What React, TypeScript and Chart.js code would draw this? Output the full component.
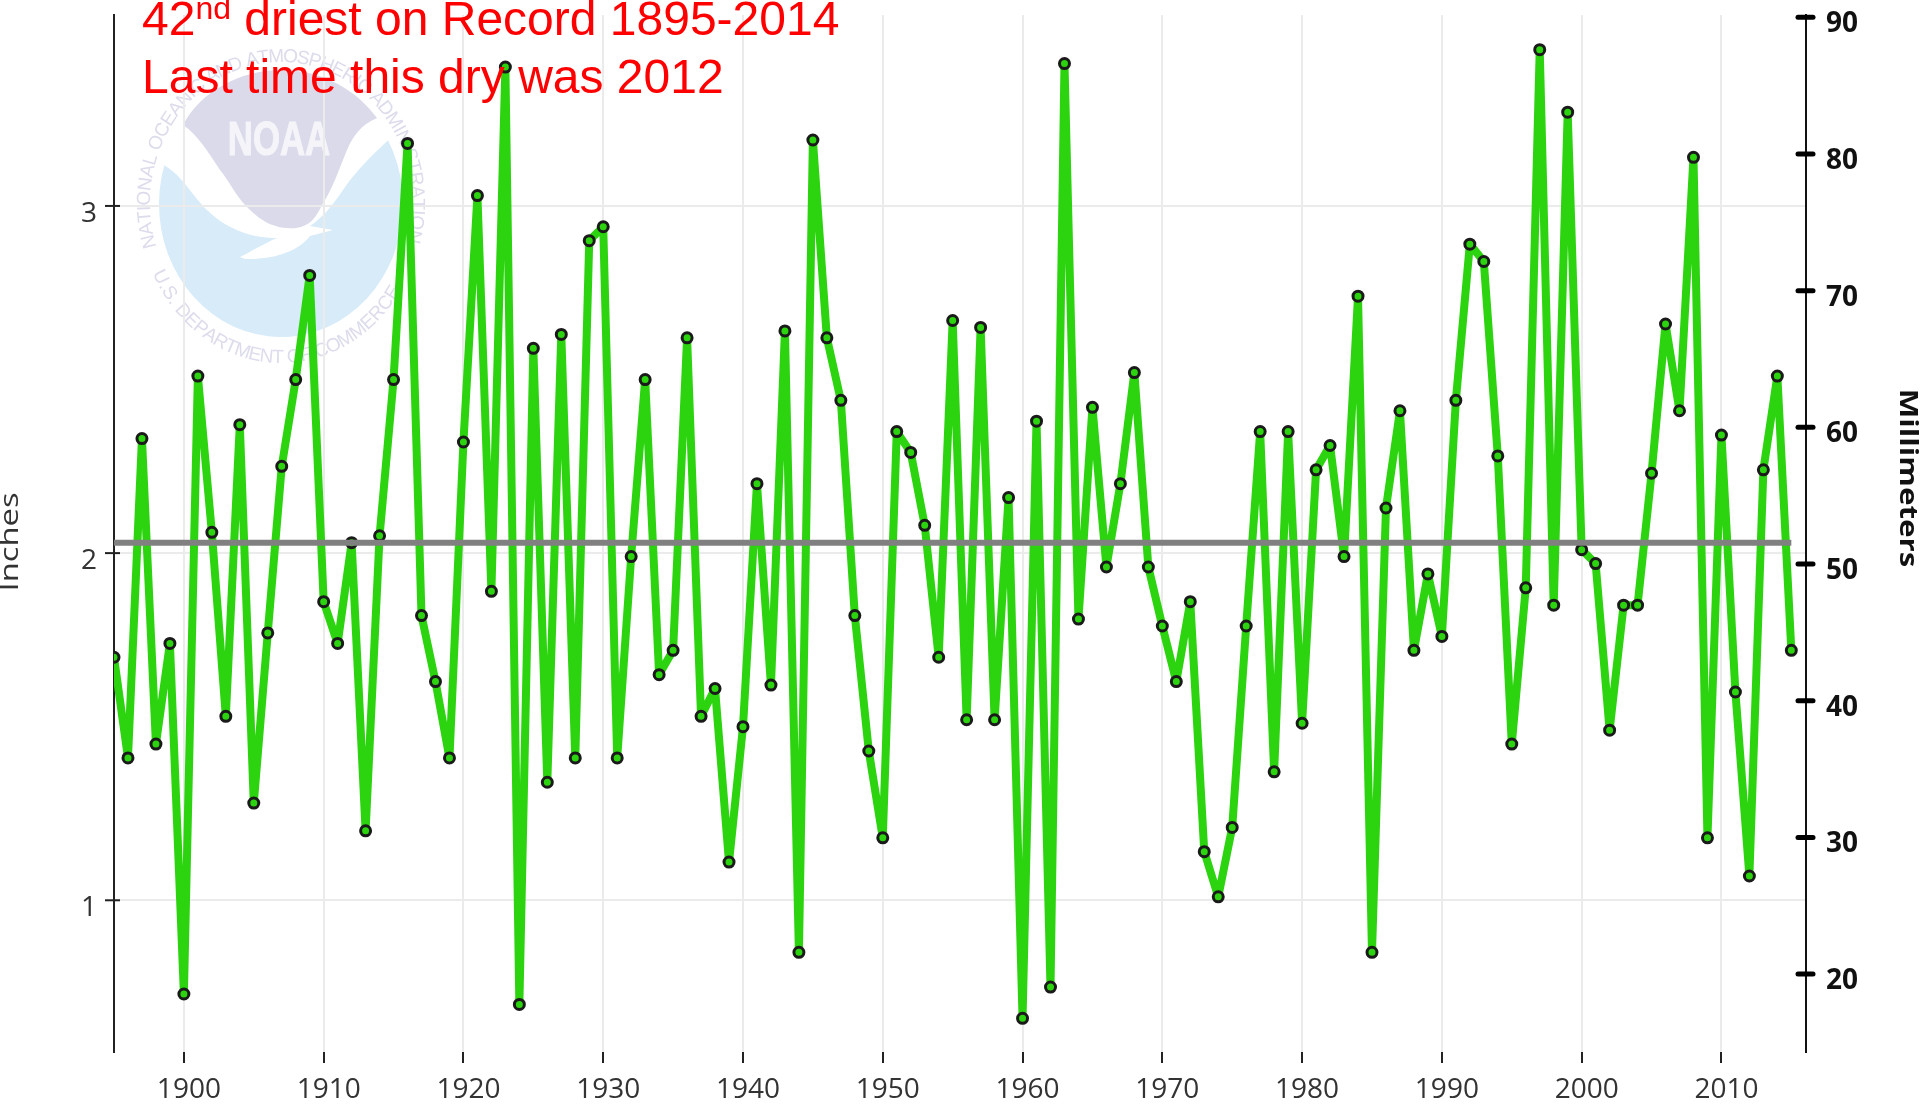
import React, { useEffect, useRef } from "react";
import { Chart, registerables } from "chart.js";

Chart.register(...registerables);

const years = [
  1895, 1896, 1897, 1898, 1899, 1900, 1901, 1902, 1903, 1904, 1905, 1906, 1907, 1908, 1909,
  1910, 1911, 1912, 1913, 1914, 1915, 1916, 1917, 1918, 1919, 1920, 1921, 1922, 1923, 1924,
  1925, 1926, 1927, 1928, 1929, 1930, 1931, 1932, 1933, 1934, 1935, 1936, 1937, 1938, 1939,
  1940, 1941, 1942, 1943, 1944, 1945, 1946, 1947, 1948, 1949, 1950, 1951, 1952, 1953, 1954,
  1955, 1956, 1957, 1958, 1959, 1960, 1961, 1962, 1963, 1964, 1965, 1966, 1967, 1968, 1969,
  1970, 1971, 1972, 1973, 1974, 1975, 1976, 1977, 1978, 1979, 1980, 1981, 1982, 1983, 1984,
  1985, 1986, 1987, 1988, 1989, 1990, 1991, 1992, 1993, 1994, 1995, 1996, 1997, 1998, 1999,
  2000, 2001, 2002, 2003, 2004, 2005, 2006, 2007, 2008, 2009, 2010, 2011, 2012, 2013, 2014, 2015,
];
const inches = [
  1.7, 1.41, 2.33, 1.45, 1.74, 0.73, 2.51, 2.06, 1.53, 2.37, 1.28, 1.77, 2.25, 2.5, 2.8,
  1.86, 1.74, 2.03, 1.2, 2.05, 2.5, 3.18, 1.82, 1.63, 1.41, 2.32, 3.03, 1.89, 3.4, 0.7,
  2.59, 1.34, 2.63, 1.41, 2.9, 2.94, 1.41, 1.99, 2.5, 1.65, 1.72, 2.62, 1.53, 1.61, 1.11,
  1.5, 2.2, 1.62, 2.64, 0.85, 3.19, 2.62, 2.44, 1.82, 1.43, 1.18, 2.35, 2.29, 2.08, 1.7,
  2.67, 1.52, 2.65, 1.52, 2.16, 0.66, 2.38, 0.75, 3.41, 1.81, 2.42, 1.96, 2.2, 2.52, 1.96,
  1.79, 1.63, 1.86, 1.14, 1.01, 1.21, 1.79, 2.35, 1.37, 2.35, 1.51, 2.24, 2.31, 1.99, 2.74,
  0.85, 2.13, 2.41, 1.72, 1.94, 1.76, 2.44, 2.89, 2.84, 2.28, 1.45, 1.9, 3.45, 1.85, 3.27,
  2.01, 1.97, 1.49, 1.85, 1.85, 2.23, 2.66, 2.41, 3.14, 1.18, 2.34, 1.6, 1.07, 2.24, 2.51, 1.72,
];
const meanYears = [1895, 2015];
const meanInches = [2.03, 2.03];
const decadeTicks = [1900, 1910, 1920, 1930, 1940, 1950, 1960, 1970, 1980, 1990, 2000, 2010];
const inchTicks = [1, 2, 3];
const mmTicks = [20, 30, 40, 50, 60, 70, 80, 90];

const F = '"Open Sans", sans-serif';

function ringText(ctx: any, text: string, cx: number, cy: number, rx: number, ry: number, a0: number, a1: number) {
  const widths = [...text].map((c) => ctx.measureText(c).width);
  const total = widths.reduce((s, w) => s + w, 0);
  let acc = 0;
  [...text].forEach((c, i) => {
    const t = (acc + widths[i] / 2) / total;
    acc += widths[i];
    const a = a0 + (a1 - a0) * t;
    const x = cx + rx * Math.cos(a);
    const y = cy + ry * Math.sin(a);
    ctx.save();
    ctx.translate(x, y);
    const tx = -rx * Math.sin(a) * Math.sign(a1 - a0);
    const ty = ry * Math.cos(a) * Math.sign(a1 - a0);
    ctx.rotate(Math.atan2(ty, tx));
    ctx.fillText(c, 0, 0);
    ctx.restore();
  });
}

const logoPlugin = {
  id: "logo",
  beforeDraw(chart: any) {
    const ctx = chart.ctx;
    const cx = 281, cy = 204, rx = 122, ry = 133;
    ctx.save();
    // lower blue field
    ctx.fillStyle = "#d7ebf9";
    ctx.beginPath();
    ctx.moveTo(163, 165);
    ctx.ellipse(cx, cy, rx, ry, 0, Math.PI + 0.3, -0.5, true);
    ctx.bezierCurveTo(372, 155, 355, 172, 343, 190);
    ctx.bezierCurveTo(333, 205, 322, 218, 310, 226);
    ctx.lineTo(333, 230);
    ctx.lineTo(310, 236);
    ctx.bezierCurveTo(300, 250, 275, 260, 245, 259);
    ctx.lineTo(240, 257);
    ctx.bezierCurveTo(250, 252, 265, 243, 277, 238);
    ctx.bezierCurveTo(250, 238, 225, 228, 207, 210);
    ctx.bezierCurveTo(193, 197, 180, 172, 163, 165);
    ctx.closePath();
    ctx.fill();
    // upper lavender field
    ctx.fillStyle = "#dadaea";
    ctx.beginPath();
    ctx.moveTo(183, 125);
    ctx.bezierCurveTo(200, 92, 240, 70, 281, 70);
    ctx.bezierCurveTo(325, 70, 358, 92, 377, 118);
    ctx.bezierCurveTo(360, 125, 352, 138, 347, 150);
    ctx.bezierCurveTo(338, 172, 332, 190, 323, 203);
    ctx.bezierCurveTo(316, 218, 310, 226, 296, 228);
    ctx.bezierCurveTo(272, 230, 258, 218, 247, 207);
    ctx.bezierCurveTo(235, 195, 230, 182, 220, 170);
    ctx.bezierCurveTo(208, 152, 198, 135, 183, 125);
    ctx.closePath();
    ctx.fill();
    // emblem name
    ctx.save();
    ctx.fillStyle = "#f4f4f9";
    ctx.strokeStyle = "#f4f4f9";
    ctx.lineWidth = 1;
    ctx.translate(279, 155);
    ctx.scale(0.81, 1.14);
    ctx.textAlign = "center";
    ctx.textBaseline = "alphabetic";
    ctx.font = 'bold 43px "Liberation Sans", sans-serif';
    ctx.fillText("NOAA", 0, 0);
    ctx.strokeText("NOAA", 0, 0);
    ctx.restore();
    // ring
    ctx.fillStyle = "#dcdcec";
    ctx.font = '19px "Liberation Sans", sans-serif';
    ctx.textAlign = "center";
    ctx.textBaseline = "alphabetic";
    ringText(ctx, "NATIONAL OCEANIC AND ATMOSPHERIC ADMINISTRATION", cx, 203, 131, 141, (162 * Math.PI) / 180, (376 * Math.PI) / 180);
    ringText(ctx, "U.S. DEPARTMENT OF COMMERCE", cx, 203, 143, 160, (154 * Math.PI) / 180, (33 * Math.PI) / 180);
    ctx.restore();
  },
};

const axisPlugin = {
  id: "axisMarks",
  afterDatasetsDraw(chart: any) {
    const { ctx, chartArea, scales } = chart;
    const { y, y2 } = scales;
    ctx.save();
    ctx.strokeStyle = "#222";
    ctx.lineWidth = 2;
    inchTicks.forEach((v) => {
      const py = y.getPixelForValue(v);
      ctx.beginPath();
      ctx.moveTo(chartArea.left - 9, py);
      ctx.lineTo(chartArea.left + 6, py);
      ctx.stroke();
    });
    ctx.strokeStyle = "#000";
    ctx.lineWidth = 5;
    ctx.lineCap = "round";
    mmTicks.forEach((v) => {
      const py = y2.getPixelForValue(v);
      ctx.beginPath();
      ctx.moveTo(chartArea.right - 8, py);
      ctx.lineTo(chartArea.right + 7, py);
      ctx.stroke();
    });
    ctx.fillStyle = "#333";
    ctx.textAlign = "center";
    ctx.textBaseline = "middle";
    ctx.font = `26px ${F}`;
    ctx.save();
    ctx.translate(11, 542);
    ctx.rotate(-Math.PI / 2);
    ctx.scale(1.26, 1);
    ctx.fillText("Inches", 0, 0);
    ctx.restore();
    ctx.fillStyle = "#111";
    ctx.font = `bold 25px ${F}`;
    ctx.save();
    ctx.translate(1907, 478);
    ctx.rotate(Math.PI / 2);
    ctx.scale(1.25, 1);
    ctx.fillText("Millimeters", 0, 0);
    ctx.restore();
    ctx.restore();
  },
};

const fix = (s: any, prop: "width" | "height", v: number) => {
  s[prop] = v;
  s.paddingTop = 0;
  s.paddingBottom = 0;
  s.paddingLeft = 0;
  s.paddingRight = 0;
};

export default function App() {
  const ref = useRef<HTMLCanvasElement>(null);
  useEffect(() => {
    document.body.style.margin = "0";
    const chart = new Chart(ref.current!, {
      type: "line",
      data: {
        datasets: [
          {
            label: "Mean",
            data: meanYears.map((x, i) => ({ x, y: meanInches[i] })),
            borderColor: "#808080",
            borderWidth: 6,
            pointRadius: 0,
            yAxisID: "y",
          },
          {
            label: "Precipitation",
            data: years.map((x, i) => ({ x, y: inches[i] })),
            borderColor: "#2bd40e",
            borderWidth: 8,
            borderJoinStyle: "round",
            pointRadius: 5,
            pointBackgroundColor: "#2bd40e",
            pointBorderColor: "#1a1a1a",
            pointBorderWidth: 3,
            yAxisID: "y",
          },
        ],
      },
      plugins: [logoPlugin, axisPlugin],
      options: {
        animation: false,
        responsive: false,
        layout: { padding: { top: 15, left: 0, right: 0, bottom: 0 } },
        plugins: { legend: { display: false }, tooltip: { enabled: false } },
        scales: {
          x: {
            type: "linear",
            min: 1895,
            max: 2016.05,
            afterBuildTicks: (s: any) => {
              s.ticks = decadeTicks.map((value) => ({ value }));
            },
            afterFit: (s: any) => fix(s, "height", 58),
            grid: { color: "#ebebeb", lineWidth: 2, tickColor: "#222", tickWidth: 2, tickLength: 11 },
            border: { display: false },
            ticks: {
              color: "#333",
              font: { family: F, size: 28 },
              padding: 10,
              labelOffset: 5,
              maxRotation: 0,
              autoSkip: false,
              callback: (v: any) => String(v),
            },
          },
          y: {
            type: "linear",
            position: "left",
            min: 0.563,
            max: 3.55,
            afterBuildTicks: (s: any) => {
              s.ticks = inchTicks.map((value) => ({ value }));
            },
            afterFit: (s: any) => fix(s, "width", 114),
            grid: { color: "#ebebeb", lineWidth: 2, tickLength: 0 },
            border: { display: true, color: "#222", width: 2 },
            ticks: { color: "#333", font: { family: F, size: 28 }, padding: 17, labelOffset: 8 },
          },
          y2: {
            type: "linear",
            position: "right",
            min: 14.3,
            max: 90.17,
            afterBuildTicks: (s: any) => {
              s.ticks = mmTicks.map((value) => ({ value }));
            },
            afterFit: (s: any) => fix(s, "width", 114),
            grid: { drawOnChartArea: false, tickLength: 0 },
            border: { display: true, color: "#111", width: 2 },
            ticks: { color: "#111", font: { family: F, size: 28, weight: "bold" }, padding: 20, labelOffset: 7 },
          },
        },
      },
    } as any);
    return () => chart.destroy();
  }, []);

  const red: React.CSSProperties = {
    position: "absolute",
    left: 142,
    color: "#ff0000",
    font: '48px "Liberation Sans", Arial, sans-serif',
    lineHeight: "58px",
    whiteSpace: "nowrap",
    margin: 0,
  };
  return (
    <div style={{ position: "absolute", left: 0, top: 0, width: 1920, height: 1110, overflow: "hidden", background: "#fff" }}>
      <canvas ref={ref} width={1920} height={1110} style={{ display: "block", width: 1920, height: 1110, filter: "blur(0.7px)" }} />
      <div style={{ ...red, top: -10 }}>
        42<span style={{ fontSize: 32, verticalAlign: "baseline", position: "relative", top: -16 }}>nd</span> driest on Record 1895-2014
      </div>
      <div style={{ ...red, top: 48 }}>Last time this dry was 2012</div>
    </div>
  );
}
